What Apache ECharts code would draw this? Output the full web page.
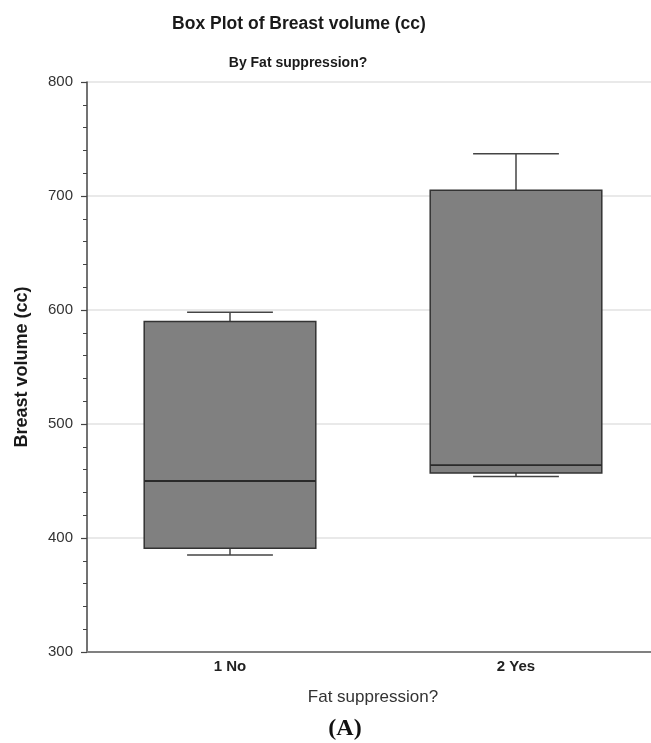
<!DOCTYPE html>
<html>
<head>
<meta charset="utf-8">
<script src="https://cdn.jsdelivr.net/npm/echarts@6/dist/echarts.min.js"></script>
<style>
html,body{margin:0;padding:0;background:#fff;overflow:hidden;}
#chart{width:651px;height:743px;}
</style>
</head>
<body>
<div id="chart"></div>
<script>
// Data
const categories = ['1 No', '2 Yes'];
const whiskerLow = [385, 454];
const q1 = [391, 457];
const median = [450, 464];
const q3 = [590, 705];
const whiskerHigh = [598, 737];
const yTicks = { min: 300, max: 800, interval: 100 };

const seriesData = categories.map((c, i) => [i, whiskerLow[i], q1[i], median[i], q3[i], whiskerHigh[i]]);

const chart = echarts.init(document.getElementById('chart'), null, { renderer: 'canvas' });

function renderBox(params, api) {
  const i = api.value(0);
  const pLow = api.coord([i, api.value(1)]);
  const pQ1 = api.coord([i, api.value(2)]);
  const pMed = api.coord([i, api.value(3)]);
  const pQ3 = api.coord([i, api.value(4)]);
  const pHigh = api.coord([i, api.value(5)]);
  const band = api.size([1, 0])[0];
  const bw = band * 0.6;
  const cx = pMed[0];
  const x0 = cx - bw / 2;
  const capHalf = bw / 4;
  const lineStyle = { stroke: '#444', lineWidth: 1.5, fill: null };
  return {
    type: 'group',
    children: [
      { type: 'line', shape: { x1: cx, y1: pHigh[1], x2: cx, y2: pQ3[1] }, style: lineStyle },
      { type: 'line', shape: { x1: cx - capHalf, y1: pHigh[1], x2: cx + capHalf, y2: pHigh[1] }, style: lineStyle },
      { type: 'line', shape: { x1: cx, y1: pQ1[1], x2: cx, y2: pLow[1] }, style: lineStyle },
      { type: 'line', shape: { x1: cx - capHalf, y1: pLow[1], x2: cx + capHalf, y2: pLow[1] }, style: lineStyle },
      { type: 'rect', shape: { x: x0, y: pQ3[1], width: bw, height: pQ1[1] - pQ3[1] },
        style: { fill: '#808080', stroke: '#333', lineWidth: 1.5 } },
      { type: 'line', shape: { x1: x0, y1: pMed[1], x2: x0 + bw, y2: pMed[1] },
        style: { stroke: '#2a2a2a', lineWidth: 1.8 } }
    ]
  };
}

const option = {
  backgroundColor: '#fff',
  animation: false,
  title: [
    { text: 'Box Plot of Breast volume (cc)', left: 294, top: 10, textAlign: 'center',
      textStyle: { fontFamily: 'Liberation Sans, Arial, sans-serif', fontSize: 17.5, fontWeight: 'bold', color: '#1a1a1a' } },
    { text: 'By Fat suppression?', left: 293, top: 51, textAlign: 'center',
      textStyle: { fontFamily: 'Liberation Sans, Arial, sans-serif', fontSize: 14, fontWeight: 'bold', color: '#1a1a1a' } },
    { text: '(A)', left: 340, top: 712, textAlign: 'center',
      textStyle: { fontFamily: 'Liberation Serif, DejaVu Serif, serif', fontSize: 24, fontWeight: 'bold', color: '#111' } }
  ],
  grid: { left: 87, width: 572, top: 82, height: 570, containLabel: false, outerBoundsMode: 'none' },
  xAxis: {
    type: 'category',
    data: categories,
    name: 'Fat suppression?',
    nameLocation: 'middle',
    nameGap: 37,
    nameTextStyle: { fontFamily: 'Liberation Sans, Arial, sans-serif', fontSize: 17, color: '#333' },
    axisLine: { show: true, lineStyle: { color: '#808080', width: 2 } },
    axisTick: { show: false },
    axisLabel: { margin: 7, fontFamily: 'Liberation Sans, Arial, sans-serif', fontSize: 15, fontWeight: 'bold', color: '#222' },
    splitLine: { show: false }
  },
  yAxis: {
    type: 'value',
    min: yTicks.min,
    max: yTicks.max,
    interval: yTicks.interval,
    name: 'Breast volume (cc)',
    nameLocation: 'middle',
    nameGap: 56,
    nameTextStyle: { fontFamily: 'Liberation Sans, Arial, sans-serif', fontSize: 18, fontWeight: 'bold', color: '#1a1a1a' },
    axisLine: { show: true, lineStyle: { color: '#444', width: 1.5 } },
    axisTick: { show: true, length: 6, lineStyle: { color: '#444', width: 1.2 } },
    minorTick: { show: true, splitNumber: 5, length: 4, lineStyle: { color: '#444', width: 1 } },
    axisLabel: { margin: 14, fontFamily: 'Liberation Sans, Arial, sans-serif', fontSize: 15, color: '#333' },
    splitLine: { show: true, lineStyle: { color: '#e2e2e2', width: 1.5 } }
  },
  series: [{
    type: 'custom',
    renderItem: renderBox,
    data: seriesData,
    encode: { x: 0, y: [1, 2, 3, 4, 5] },
    clip: false
  }]
};
chart.setOption(option);
</script>
</body>
</html>
